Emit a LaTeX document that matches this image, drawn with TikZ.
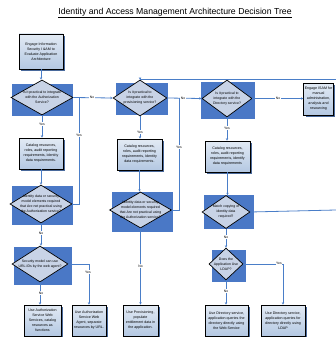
\documentclass[tikz,border=0pt]{standalone}
\usepackage{fontspec}
\setmainfont{Liberation Sans}
\usetikzlibrary{shapes.geometric,shadows,arrows.meta}
\definecolor{backblue}{HTML}{4A78C6}
\definecolor{linkblue}{HTML}{4A7EC8}
\definecolor{boxtop}{HTML}{E2EAF4}
\definecolor{boxbot}{HTML}{B4C8E2}
\definecolor{dfill}{HTML}{C8D3E6}
\definecolor{shadowblue}{HTML}{4A6A9C}
\tikzset{
  procbox/.style={draw=black, line width=0.9pt, top color=boxtop, bottom color=boxbot,
    drop shadow={shadow xshift=2.2pt, shadow yshift=-2.2pt, fill=shadowblue, opacity=1},
    inner sep=1pt, align=center, font=\fontsize{3.6}{5}\selectfont},
  backrect/.style={fill=backblue, draw=none, inner sep=0},
  decision/.style={shape=diamond, draw=black, line width=0.7pt, fill=dfill, inner sep=0},
  dtext/.style={align=center, font=\fontsize{3.5}{5}\selectfont, inner sep=0},
  link/.style={draw=linkblue, line width=0.8pt},
  arr/.style={link, -{Stealth[length=2.4pt,width=2.4pt]}},
  lbl/.style={fill=white, inner sep=0.4pt, font=\fontsize{3.4}{4}\selectfont}
}
\begin{document}
\begin{tikzpicture}[x=1pt,y=-1pt]
\useasboundingbox (0,0) rectangle (336,337);

% title
\node[font=\fontsize{8.7}{9}\selectfont, inner sep=0] (title) at (175,13)
  {\underline{Identity and Access Management Architecture Decision Tree}};

% blue backing panels behind the decisions
\node[backrect, minimum width=61pt, minimum height=32pt] (d1bg) at (42.5,100) {};
\node[backrect, minimum width=52pt, minimum height=32pt] (d2bg) at (142,99) {};
\node[backrect, minimum width=54pt, minimum height=37pt] (d3bg) at (228,100.5) {};
\node[backrect, minimum width=61pt, minimum height=39pt] (d4bg) at (42.5,205.5) {};
\node[backrect, minimum width=58pt, minimum height=38pt] (d5bg) at (43,266) {};
\node[backrect, minimum width=61pt, minimum height=40pt] (d6bg) at (142.5,212) {};
\node[backrect, minimum width=50pt, minimum height=34pt] (d7bg) at (229,212) {};
\node[backrect, minimum width=34pt, minimum height=32pt] (d8bg) at (229,266) {};

% decisions
\node[decision, minimum width=62pt, minimum height=35pt] (d1) at (42,97.5) {};
\node[dtext] (d1t) at (d1) {Is it practical to integrate\\with the Authorization\\Service?};
\node[decision, minimum width=54pt, minimum height=36pt] (d2) at (140,98) {};
\node[dtext] (d2t) at (d2) {Is it practical to\\integrate with the\\provisioning service?};
\node[decision, minimum width=50pt, minimum height=37pt] (d3) at (227,98.5) {};
\node[dtext] (d3t) at (d3) {Is it practical to\\integrate with the\\Directory service?};
\node[decision, minimum width=62pt, minimum height=38pt] (d4) at (41,204) {};
\node[dtext] (d4t) at (d4) {Identity data or security\\model elements required\\that Are not practical using\\the Authorization service?};
\node[decision, minimum width=56pt, minimum height=36pt] (d5) at (40,264) {};
\node[dtext] (d5t) at (d5) {Security model can use\\URL-IDs by the web agent?};
\node[decision, minimum width=62pt, minimum height=36pt] (d6) at (140.5,210) {};
\node[dtext] (d6t) at (d6) {Identity data or security\\model elements required\\that Are not practical using\\the Authorization service?};
\node[decision, minimum width=48pt, minimum height=33pt] (d7) at (226,212) {};
\node[dtext] (d7t) at (d7) {Match copying of\\identity data\\required?};
\node[decision, minimum width=34pt, minimum height=32pt] (d8) at (226,264) {};
\node[dtext] (d8t) at (d8) {Does the\\Application Use\\LDAP?};

% process boxes
\node[procbox, minimum width=44pt, minimum height=35pt] (b0) at (41,51.5)
  {Engage Information\\Security I \&AM to\\Evaluate Application\\Architecture};
\node[procbox, minimum width=29pt, minimum height=32pt] (br) at (318.5,99)
  {Engage ISAM for\\manual\\administration,\\analysis and\\resourcing};
\node[procbox, minimum width=44pt, minimum height=31pt] (c1) at (41,153.5)
  {Catalog resources,\\roles, audit reporting\\requirements, Identity\\data requirements.};
\node[procbox, minimum width=45pt, minimum height=31pt] (c2) at (139.5,154.5)
  {Catalog resources,\\roles, audit reporting\\requirements, Identity\\data requirements.};
\node[procbox, minimum width=45pt, minimum height=31pt] (c3) at (227.5,156.5)
  {Catalog resources,\\roles, audit reporting\\requirements, identify\\data requirements};
\node[procbox, minimum width=37pt, minimum height=31pt] (ba) at (42.5,320.5)
  {Use Authorization\\Service Web\\Services, catalog\\resources as\\functions};
\node[procbox, minimum width=34pt, minimum height=31pt] (bb) at (89,320.5)
  {Use Authorization\\Service Web\\Agent, separate\\resources by URL.};
\node[procbox, minimum width=35pt, minimum height=31pt] (bc) at (140.5,320.5)
  {Use Provisioning,\\populate\\entitlement data in\\the application.};
\node[procbox, minimum width=43pt, minimum height=31pt] (bd) at (226.5,320.5)
  {Use Directory service,\\application queries the\\directory directly using\\the Web Service};
\node[procbox, minimum width=44pt, minimum height=31pt] (be) at (283,320.5)
  {Use Directory service,\\application queries for\\directory directly using\\LDAP};

% junctions and open ends
\coordinate (j1) at (79,97.5);
\coordinate (j2) at (179,98);
\coordinate (e1) at (336,79);
\coordinate (e2) at (336,210);

% connectors
\draw[arr] (b0.south) -- (b0.south |- d1.north);
\draw[arr] (d1.east) -- (d2.west);
\draw[arr] (d1.south) -- (d1.south |- c1.north);
\draw[arr] (c1.south) -- (c1.south |- d4.north);
\draw[link] (d4.east) -| (j1);
\draw[arr] (d4.south) -- (d4.south |- d5.north);
\draw[arr] (d5.east) -| (bb.north);
\draw[arr] (d5.south) -- (d5.south |- ba.north);

\draw[arr] (e1) -| (d2.north);
\draw[arr] (d2.east) -- (d3.west);
\draw[arr] (d2.south) -- (d2.south |- c2.north);
\draw[arr] (c2.south) -- (c2.south |- d6.north);
\draw[link] (d6.east) -| (j2);
\draw[arr] (d6.south) -- (d6.south |- bc.north);

\draw[arr] (d3.east) -- (d3.east -| br.west);
\draw[arr] (d3.south) -- (d3.south |- c3.north);
\draw[arr] (c3.south) -- (c3.south |- d7.north);
\draw[link] (d7.east) -- (e2);
\draw[arr] (d7.south) -- (d7.south |- d8.north);
\draw[arr] (d8.east) -| (be.north);
\draw[arr] (d8.south) -- (d8.south |- bd.north);

% branch labels
\node[lbl] (l1) at (92,97.5) {No};
\node[lbl] (l2) at (42,124) {Yes};
\node[lbl] (l3) at (79,135) {Yes};
\node[lbl] (l4) at (41,233) {No};
\node[lbl] (l5) at (88,272) {Yes};
\node[lbl] (l6) at (41,293) {No};
\node[lbl] (l7) at (140,132) {Yes};
\node[lbl] (l8) at (179,147) {Yes};
\node[lbl] (l9) at (183,98) {No};
\node[lbl] (l10) at (140.5,266) {No};
\node[lbl] (l11) at (227,128) {Yes};
\node[lbl] (l12) at (278,98.5) {No};
\node[lbl] (l13) at (226,237) {No};
\node[lbl] (l14) at (279,263) {Yes};
\node[lbl] (l15) at (226,291) {No};
\end{tikzpicture}
\end{document}
